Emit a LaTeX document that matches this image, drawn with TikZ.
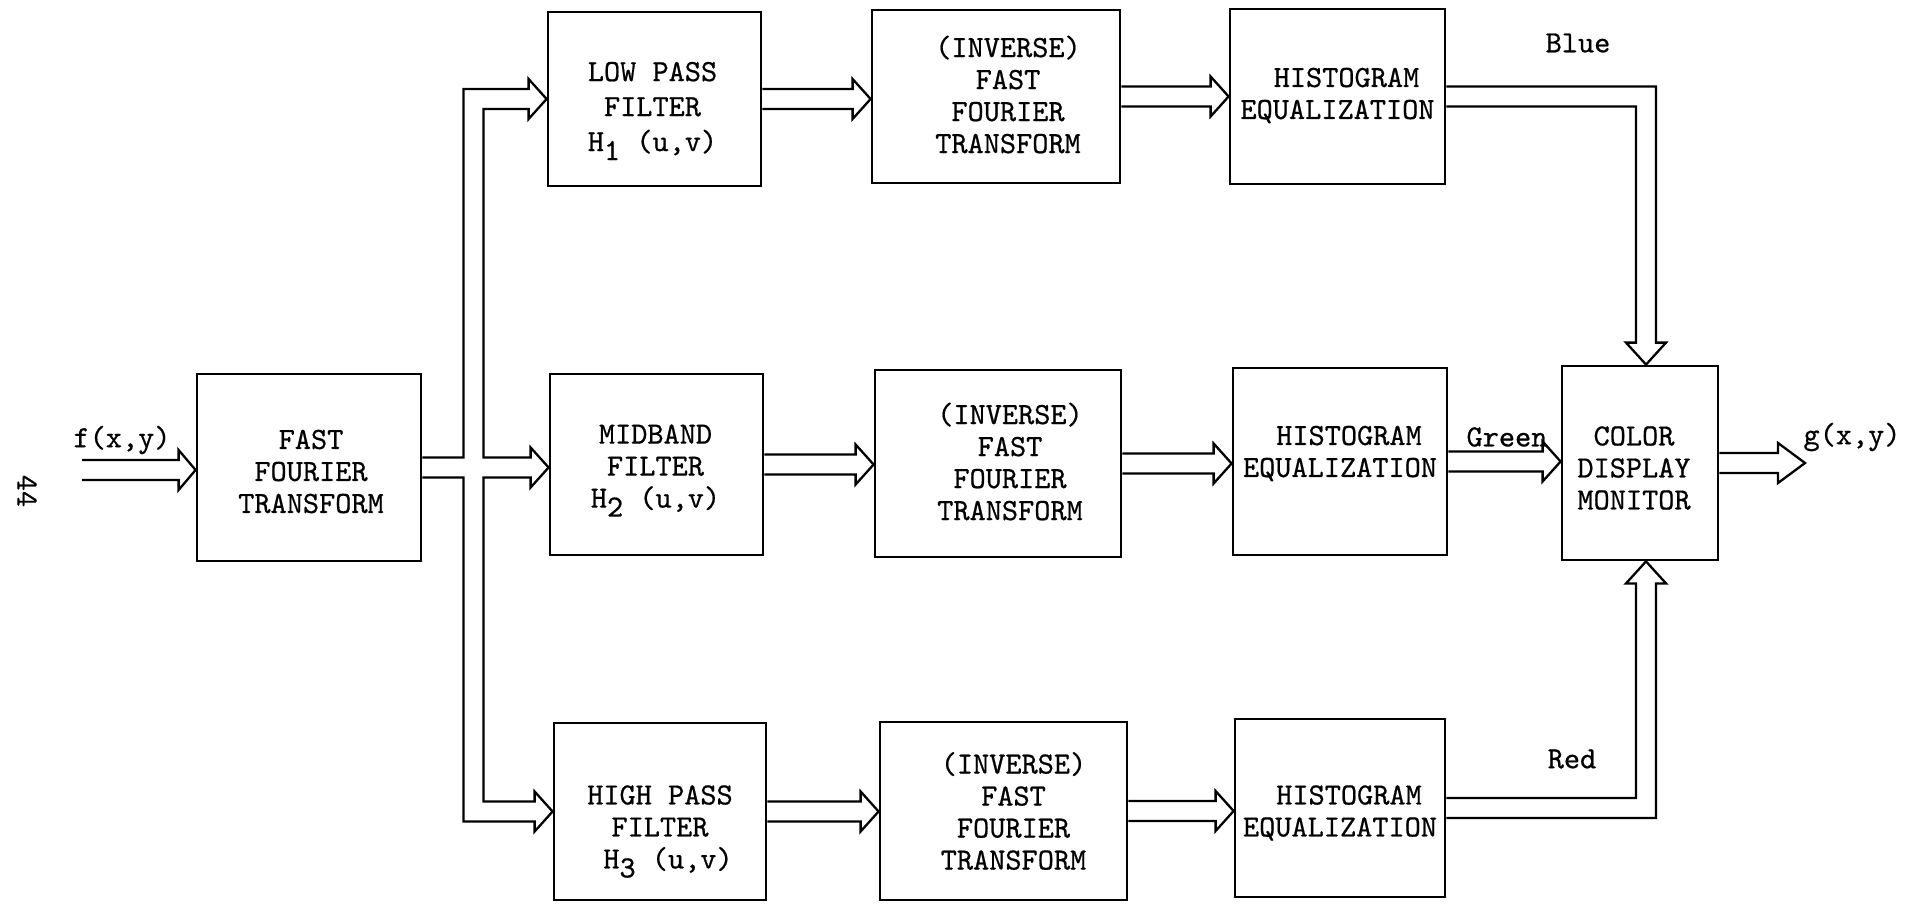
\documentclass[tikz,border=0pt]{standalone}
\usepackage{fontspec}
\newfontfamily\twfont{lmmono10-regular.otf}[FakeBold=0.6]
\usetikzlibrary{calc}
\newcommand{\rarrow}[3][18]{%
  \draw[wire] ($(#2)+(0,-10)$) -- ($(#3)+(-#1,-10)$) -- ($(#3)+(-#1,-20)$) -- (#3)
    -- ($(#3)+(-#1,20)$) -- ($(#3)+(-#1,10)$) -- ($(#2)+(0,10)$);}
\begin{document}
\begin{tikzpicture}[x=0.5pt,y=-0.5pt,
  box/.style={draw, line width=1.4pt, rectangle, inner sep=0pt},
  wire/.style={line width=1.15pt, line join=miter},
  txt/.style={font=\twfont\fontsize{15.4}{16}\selectfont, align=center, inner sep=0pt},
  lbl/.style={font=\twfont\fontsize{15.4}{16}\selectfont, inner sep=0pt}]
\useasboundingbox (0,0) rectangle (1921,904);

% boxes
\node[box, minimum width=112pt, minimum height=93.5pt] (fft) at (309,467.5) {};
\node[box, minimum width=106.5pt, minimum height=87pt] (lpf) at (654.5,99) {};
\node[box, minimum width=106.5pt, minimum height=90.5pt] (mb) at (656.5,464.5) {};
\node[box, minimum width=106pt, minimum height=88.5pt] (hpf) at (660,811.5) {};
\node[box, minimum width=124pt, minimum height=86.5pt] (ifft1) at (996,96.5) {};
\node[box, minimum width=123pt, minimum height=93.5pt] (ifft2) at (998,463.5) {};
\node[box, minimum width=123.5pt, minimum height=89pt] (ifft3) at (1003.5,811) {};
\node[box, minimum width=107.5pt, minimum height=87.5pt] (he1) at (1337.5,96.5) {};
\node[box, minimum width=107pt, minimum height=93.5pt] (he2) at (1340,461.5) {};
\node[box, minimum width=105pt, minimum height=89pt] (he3) at (1340,808) {};
\node[box, minimum width=78pt, minimum height=97pt] (cdm) at (1640,463) {};

% box texts
\node[txt] at ($(fft.center)+(2,4)$) {FAST\\FOURIER\\TRANSFORM};
\node[txt] at ($(lpf.center)+(-2,12)$) {LOW PASS\\[1.5pt]FILTER\\[1.5pt]H\raisebox{-4.5pt}{1} (u,v)};
\node[txt] at ($(mb.center)+(-1,6)$) {MIDBAND\\FILTER\\H\raisebox{-4.5pt}{2} (u,v)};
\node[txt] at ($(hpf.center)+(0,20)$) {HIGH PASS\\FILTER\\\hspace*{8pt}H\raisebox{-4.5pt}{3} (u,v)};
\node[txt] at ($(ifft1.center)+(12,-2)$) {(INVERSE)\\FAST\\FOURIER\\TRANSFORM};
\node[txt] at ($(ifft2.center)+(12,-2)$) {(INVERSE)\\FAST\\FOURIER\\TRANSFORM};
\node[txt] at ($(ifft3.center)+(10,0)$) {(INVERSE)\\FAST\\FOURIER\\TRANSFORM};
\node[txt] at ($(he1.center)+(0,-1)$) {\hspace*{9pt}HISTOGRAM\\EQUALIZATION};
\node[txt] at ($(he2.center)+(0,-8)$) {\hspace*{9pt}HISTOGRAM\\EQUALIZATION};
\node[txt] at ($(he3.center)+(0,5)$) {\hspace*{9pt}HISTOGRAM\\EQUALIZATION};
\node[txt] at ($(cdm.center)+(-6,5)$) {COLOR\\DISPLAY\\MONITOR};

% labels
\node[lbl] (blue) at (1578,43) {Blue};
\node[lbl] (green) at (1507,437) {Green};
\node[lbl] (red) at (1572,759) {Red};
\node[lbl] (fin) at (122,440) {f(x,y)};
\node[lbl] (gout) at (1852,437) {g(x,y)};
\node[lbl, rotate=-90] (pg) at (27,491) {44};

% input and output
\coordinate (inS) at (82,470);
\coordinate (inT) at (fft.west |- inS);
\rarrow[17]{inS}{inT}
\coordinate (outT) at (1805,463);
\coordinate (outTT) at (outT |- cdm.east);
\rarrow[27]{cdm.east}{outTT}

% branching from FFT
\coordinate (vx1) at ($(fft.east)+(41,0)$);
\coordinate (vx2) at ($(fft.east)+(61,0)$);
\coordinate (mT) at (mb.west |- fft.east);
\draw[wire] ($(fft.east)+(0,-10)$) -- ($(vx1 |- fft.east)+(0,-10)$) -- ($(vx1 |- lpf.west)+(0,-10)$)
  -- ($(lpf.west)+(-18,-10)$) -- ($(lpf.west)+(-18,-20)$) -- (lpf.west) -- ($(lpf.west)+(-18,20)$) -- ($(lpf.west)+(-18,10)$)
  -- ($(vx2 |- lpf.west)+(0,10)$) -- ($(vx2 |- fft.east)+(0,-10)$)
  -- ($(mT)+(-18,-10)$) -- ($(mT)+(-18,-20)$) -- (mT) -- ($(mT)+(-18,20)$) -- ($(mT)+(-18,10)$)
  -- ($(vx2 |- fft.east)+(0,10)$) -- ($(vx2 |- hpf.west)+(0,-10)$)
  -- ($(hpf.west)+(-18,-10)$) -- ($(hpf.west)+(-18,-20)$) -- (hpf.west) -- ($(hpf.west)+(-18,20)$) -- ($(hpf.west)+(-18,10)$)
  -- ($(vx1 |- hpf.west)+(0,10)$) -- ($(vx1 |- fft.east)+(0,10)$) -- ($(fft.east)+(0,10)$);

% channel arrows
\coordinate (a1) at (ifft1.west |- lpf.east);
\rarrow{lpf.east}{a1}
\coordinate (a2) at (he1.west |- ifft1.east);
\rarrow{ifft1.east}{a2}
\coordinate (a3) at (ifft2.west |- mb.east);
\rarrow{mb.east}{a3}
\coordinate (a4) at (he2.west |- ifft2.east);
\rarrow{ifft2.east}{a4}
\coordinate (a5) at (cdm.west |- he2.east);
\rarrow{he2.east}{a5}
\coordinate (a6) at (ifft3.west |- hpf.east);
\rarrow{hpf.east}{a6}
\coordinate (a7) at (he3.west |- ifft3.east);
\rarrow{ifft3.east}{a7}

% Blue
\coordinate (bt) at ($(cdm.north)+(6,0)$);
\draw[wire] ($(he1.east)+(0,-10)$) -- ($(bt |- he1.east)+(10,-10)$) -- ($(bt)+(10,-22)$) -- ($(bt)+(20,-22)$)
  -- (bt) -- ($(bt)+(-20,-22)$) -- ($(bt)+(-10,-22)$) -- ($(bt |- he1.east)+(-10,10)$) -- ($(he1.east)+(0,10)$);
% Red
\coordinate (rt) at ($(cdm.south)+(6,0)$);
\draw[wire] ($(he3.east)+(0,-10)$) -- ($(rt |- he3.east)+(-10,-10)$) -- ($(rt)+(-10,22)$) -- ($(rt)+(-20,22)$)
  -- (rt) -- ($(rt)+(20,22)$) -- ($(rt)+(10,22)$) -- ($(rt |- he3.east)+(10,10)$) -- ($(he3.east)+(0,10)$);
\end{tikzpicture}
\end{document}
